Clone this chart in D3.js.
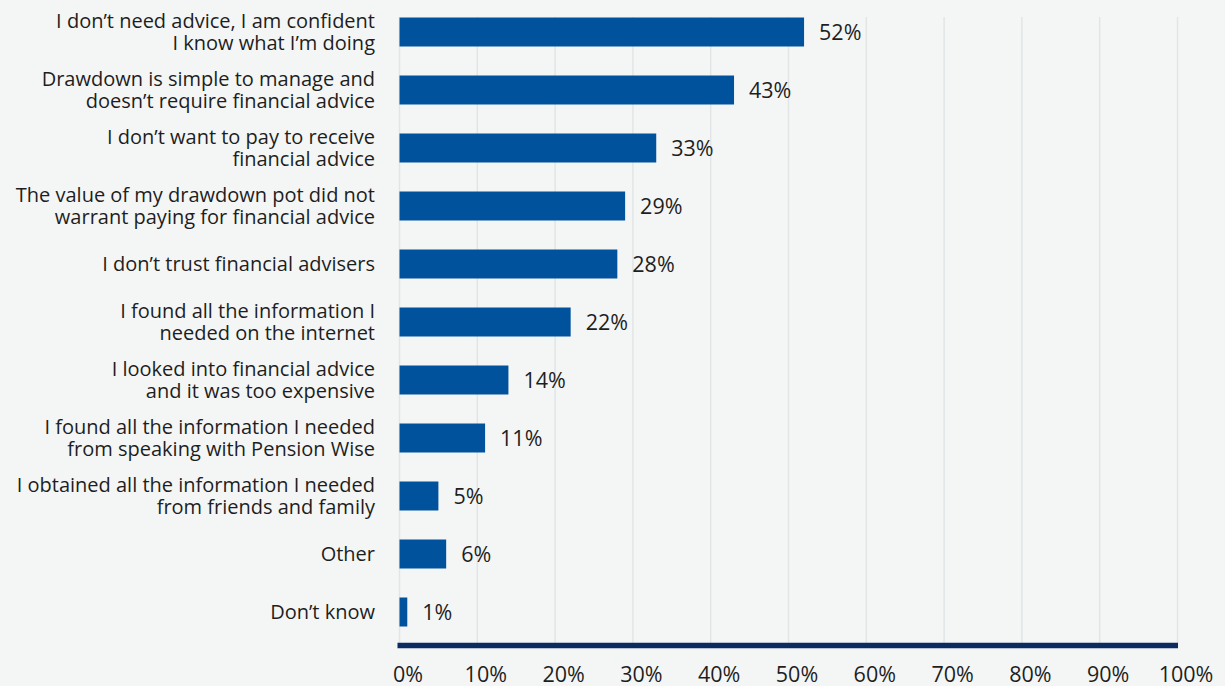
<!DOCTYPE html>
<html>
<head>
    <style>
        body { margin: 0; background: #f4f6f6; }
        svg { display: block; background: #f4f6f6; }
        .cat { font: 20px "Open Sans", sans-serif; fill: #1e1e1e; text-anchor: end; }
        .val { font: 21.5px "Open Sans", sans-serif; fill: #1e1e1e; }
        .tick text { font: 21.5px "Open Sans", sans-serif; fill: #1e1e1e; }
    </style>
    <script src="https://d3js.org/d3.v7.min.js"></script>
</head>
<body>
    <svg width="1225" height="686"></svg>
    <script>
        var categories = [
            ["I don\u2019t need advice, I am confident", "I know what I\u2019m doing"],
            ["Drawdown is simple to manage and", "doesn\u2019t require financial advice"],
            ["I don\u2019t want to pay to receive", "financial advice"],
            ["The value of my drawdown pot did not", "warrant paying for financial advice"],
            ["I don\u2019t trust financial advisers"],
            ["I found all the information I", "needed on the internet"],
            ["I looked into financial advice", "and it was too expensive"],
            ["I found all the information I needed", "from speaking with Pension Wise"],
            ["I obtained all the information I needed", "from friends and family"],
            ["Other"],
            ["Don\u2019t know"]
        ];
        var values = [52, 43, 33, 29, 28, 22, 14, 11, 5, 6, 1];
        var ticks = [0, 10, 20, 30, 40, 50, 60, 70, 80, 90, 100];

        var svg = d3.select("svg");
        var x = d3.scaleLinear().domain([0, 100]).range([399.5, 1177.5]);
        var y = d3.scaleBand().domain(d3.range(values.length)).range([3, 641])
            .paddingInner(0.5).paddingOuter(0.25);
        var axisY = 645.5;

        // gridlines
        svg.append("g").selectAll("line").data(ticks).enter().append("line")
            .attr("x1", function(d){ return x(d); }).attr("x2", function(d){ return x(d); })
            .attr("y1", 17).attr("y2", axisY)
            .attr("stroke", "#e2e5e6").attr("stroke-width", 1.5);

        // bars
        svg.append("g").selectAll("rect").data(values).enter().append("rect")
            .attr("x", x(0))
            .attr("y", function(d, i){ return y(i); })
            .attr("width", function(d){ return x(d) - x(0); })
            .attr("height", y.bandwidth())
            .attr("fill", "#00529c");

        // value labels
        svg.append("g").selectAll("text").data(values).enter().append("text")
            .attr("class", "val")
            .attr("x", function(d){ return x(d) + 15; })
            .attr("y", function(d, i){ return y(i) + y.bandwidth() / 2 + 8; })
            .text(function(d){ return d + "%"; });

        // category labels
        var lineH = 22;
        var cat = svg.append("g").selectAll("text").data(categories).enter().append("text")
            .attr("class", "cat")
            .attr("y", function(d, i){
                var c = y(i) + y.bandwidth() / 2;
                return c + 7 - (d.length - 1) * lineH / 2;
            });
        cat.selectAll("tspan").data(function(d){ return d; }).enter().append("tspan")
            .attr("x", 375)
            .attr("dy", function(d, j){ return j === 0 ? 0 : lineH; })
            .text(function(d){ return d; });

        // x axis
        var xAxis = d3.axisBottom(x).tickValues(ticks).tickSize(0).tickPadding(0)
            .tickFormat(function(d){ return d + "%"; });
        var ax = svg.append("g").attr("transform", "translate(0," + axisY + ")").call(xAxis);
        ax.select(".domain").remove();
        ax.selectAll(".tick text").attr("dy", null).attr("y", 36).attr("dx", 8);

        svg.append("line")
            .attr("x1", x(0) - 2).attr("x2", x(100) + 0.5)
            .attr("y1", axisY).attr("y2", axisY)
            .attr("stroke", "#0b2b61").attr("stroke-width", 5.5);
    </script>
</body>
</html>
